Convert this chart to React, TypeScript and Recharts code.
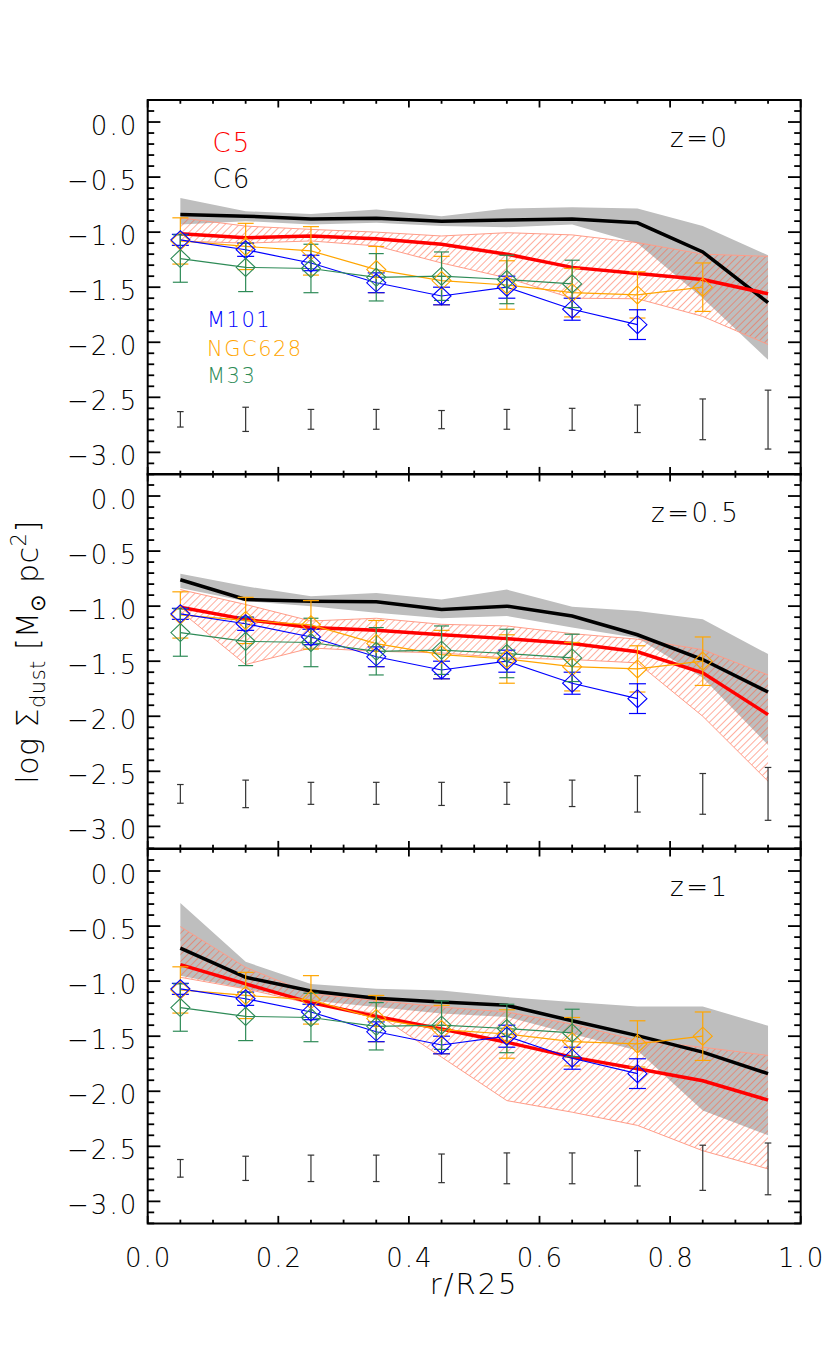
import React from 'react';
import { ComposedChart, Area, Line, XAxis, YAxis, ErrorBar, ReferenceArea } from 'recharts';

// radial bins r/R25
const R_BINS = [0.05, 0.15, 0.25, 0.35, 0.45, 0.55, 0.65, 0.75, 0.85, 0.95];

// observed galaxies (same in every panel)
const M101 = [-1.07, -1.16, -1.28, -1.46, -1.58, -1.5, -1.7, -1.84];
const M101_ERR = [0.05, 0.06, 0.07, 0.09, 0.08, 0.1, 0.1, 0.135];
const NGC628 = [-1.08, -1.13, -1.17, -1.34, -1.44, -1.48, -1.55, -1.57, -1.5];
const NGC628_ERR = [0.21, 0.21, 0.22, 0.21, 0.22, 0.22, 0.22, 0.21, 0.22];
const M33 = [-1.24, -1.32, -1.33, -1.41, -1.4, -1.43, -1.47];
const M33_ERR = [0.215, 0.22, 0.22, 0.215, 0.22, 0.22, 0.215];

// z = 0
const C5_Z0 = [-1.015, -1.05, -1.035, -1.06, -1.11, -1.2, -1.32, -1.375, -1.43, -1.56];
const C5_Z0_HI = [-0.87, -0.945, -0.975, -1.0, -1.035, -1.005, -1.025, -1.095, -1.2, -1.22];
const C5_Z0_LO = [-1.08, -1.1, -1.08, -1.125, -1.28, -1.415, -1.6, -1.605, -1.765, -2.02];
const C6_Z0 = [-0.84, -0.855, -0.88, -0.875, -0.9, -0.89, -0.88, -0.915, -1.18, -1.64];
const C6_Z0_HI = [-0.69, -0.81, -0.835, -0.795, -0.855, -0.785, -0.775, -0.785, -0.945, -1.21];
const C6_Z0_LO = [-0.93, -0.9, -0.93, -0.915, -0.945, -0.955, -0.93, -1.1, -1.6, -2.16];
const SYS_Z0_LO = [-2.77, -2.81, -2.79, -2.79, -2.785, -2.79, -2.8, -2.82, -2.885, -2.97];
const SYS_Z0_HI = [-2.63, -2.59, -2.61, -2.61, -2.62, -2.61, -2.6, -2.57, -2.515, -2.435];

// z = 0.5
const C5_Z05 = [-1.01, -1.12, -1.195, -1.22, -1.26, -1.295, -1.34, -1.415, -1.605, -1.985];
const C5_Z05_HI = [-0.85, -0.985, -1.135, -1.11, -1.165, -1.18, -1.25, -1.3, -1.395, -1.625];
const C5_Z05_LO = [-1.045, -1.53, -1.38, -1.41, -1.425, -1.47, -1.485, -1.515, -2.0, -2.59];
const C6_Z05 = [-0.76, -0.94, -0.955, -0.96, -1.03, -1.0, -1.09, -1.26, -1.485, -1.78];
const C6_Z05_HI = [-0.705, -0.82, -0.91, -0.88, -0.94, -0.85, -1.005, -1.045, -1.12, -1.435];
const C6_Z05_LO = [-0.835, -0.955, -1.0, -1.06, -1.11, -1.09, -1.195, -1.29, -1.65, -2.26];
const SYS_Z05_LO = [-2.79, -2.83, -2.8, -2.8, -2.81, -2.8, -2.82, -2.87, -2.89, -2.945];
const SYS_Z05_HI = [-2.62, -2.58, -2.6, -2.6, -2.6, -2.6, -2.58, -2.54, -2.52, -2.465];

// z = 1
const C5_Z1 = [-0.85, -1.025, -1.195, -1.32, -1.435, -1.555, -1.69, -1.795, -1.905, -2.08];
const C5_Z1_HI = [-0.505, -0.875, -1.115, -1.175, -1.235, -1.28, -1.39, -1.54, -1.6, -1.675];
const C5_Z1_LO = [-0.965, -1.07, -1.205, -1.295, -1.69, -2.085, -2.19, -2.31, -2.54, -2.705];
const C6_Z1 = [-0.7, -0.965, -1.09, -1.155, -1.19, -1.22, -1.36, -1.495, -1.645, -1.84];
const C6_Z1_HI = [-0.29, -0.825, -1.025, -1.07, -1.085, -1.145, -1.19, -1.23, -1.23, -1.405];
const C6_Z1_LO = [-0.95, -1.07, -1.175, -1.235, -1.295, -1.325, -1.48, -1.63, -2.175, -2.4];
const SYS_Z1_LO = [-2.78, -2.81, -2.82, -2.82, -2.83, -2.84, -2.84, -2.86, -2.9, -2.94];
const SYS_Z1_HI = [-2.62, -2.59, -2.58, -2.58, -2.57, -2.56, -2.56, -2.54, -2.49, -2.47];

// axes
const X_TICKS = [0, 0.05, 0.1, 0.15, 0.2, 0.25, 0.3, 0.35, 0.4, 0.45, 0.5, 0.55, 0.6, 0.65, 0.7, 0.75, 0.8, 0.85, 0.9, 0.95, 1.0];
const X_LABELS = ['0.0', '0.2', '0.4', '0.6', '0.8', '1.0'];
const Y_TICKS = [-3.2, -3.1, -3.0, -2.9, -2.8, -2.7, -2.6, -2.5, -2.4, -2.3, -2.2, -2.1, -2.0, -1.9, -1.8, -1.7, -1.6, -1.5, -1.4, -1.3, -1.2, -1.1, -1.0, -0.9, -0.8, -0.7, -0.6, -0.5, -0.4, -0.3, -0.2, -0.1, 0.0, 0.1, 0.2];
const Y_MAJOR = [-3.0, -2.5, -2.0, -1.5, -1.0, -0.5, 0.0];
const Y_LABELS = ['−3.0', '−2.5', '−2.0', '−1.5', '−1.0', '−0.5', '0.0'];

const FONT = '"DejaVu Sans", sans-serif';
const FW = 200; // thin strokes like the IDL vector font
const W = 830;
const PLOT_L = 147.7;
const PLOT_W = 653;
const PANEL_H = 374.4;
const PANEL_TOPS = [100, 474.4, 848.8];
const M_TOP = 40;
const M_BOT = 60;
const CH = M_TOP + PANEL_H + M_BOT + 30;

const PANELS = [
  { z: 'z=0', zx: 670, c5: C5_Z0, c5Lo: C5_Z0_LO, c5Hi: C5_Z0_HI, c6: C6_Z0, c6Lo: C6_Z0_LO, c6Hi: C6_Z0_HI, sysLo: SYS_Z0_LO, sysHi: SYS_Z0_HI },
  { z: 'z=0.5', zx: 651, c5: C5_Z05, c5Lo: C5_Z05_LO, c5Hi: C5_Z05_HI, c6: C6_Z05, c6Lo: C6_Z05_LO, c6Hi: C6_Z05_HI, sysLo: SYS_Z05_LO, sysHi: SYS_Z05_HI },
  { z: 'z=1', zx: 670, c5: C5_Z1, c5Lo: C5_Z1_LO, c5Hi: C5_Z1_HI, c6: C6_Z1, c6Lo: C6_Z1_LO, c6Hi: C6_Z1_HI, sysLo: SYS_Z1_LO, sysHi: SYS_Z1_HI },
];

const buildRows = (p: any) =>
  R_BINS.map((r, i) => ({
    r,
    c5: p.c5[i],
    c5Band: [p.c5Lo[i], p.c5Hi[i]],
    c6: p.c6[i],
    c6Band: [p.c6Lo[i], p.c6Hi[i]],
    m101: M101[i] ?? null,
    m101Err: M101_ERR[i] ?? null,
    ngc628: NGC628[i] ?? null,
    ngc628Err: NGC628_ERR[i] ?? null,
    m33: M33[i] ?? null,
    m33Err: M33_ERR[i] ?? null,
    sys: (p.sysLo[i] + p.sysHi[i]) / 2,
    sysErr: (p.sysHi[i] - p.sysLo[i]) / 2,
  }));

const diamond = (color: string) => (p: any) => {
  const { cx, cy, index } = p;
  if (cx == null || cy == null || Number.isNaN(cy)) return <g key={`d${index}`} />;
  return (
    <polygon
      key={`d${index}`}
      points={`${cx - 9.5},${cy} ${cx},${cy - 9} ${cx + 9.5},${cy} ${cx},${cy + 9}`}
      fill="none"
      stroke={color}
      strokeWidth={1.1}
    />
  );
};

// inward ticks on bottom + top, labels only on the last panel
const XTick = (props: any) => {
  const { x, y, payload, showLabels } = props;
  const v = payload.value;
  const major = Math.abs(v * 5 - Math.round(v * 5)) < 1e-6;
  const len = major ? 7.5 : 3.75;
  return (
    <g>
      <line x1={x} y1={y} x2={x} y2={y - len} stroke="#000" strokeWidth={1.8} />
      <line x1={x} y1={y - PANEL_H} x2={x} y2={y - PANEL_H + len} stroke="#000" strokeWidth={1.8} />
      {showLabels && major && (
        <text x={x + 1} y={y + 44} textAnchor="middle" fontSize={26} fontFamily={FONT} fontWeight={FW} letterSpacing={2} fill="#000">
          {X_LABELS[Math.round(v * 5)]}
        </text>
      )}
    </g>
  );
};

// inward ticks on left + right
const YTick = (props: any) => {
  const { x, y, payload } = props;
  const v = payload.value;
  const mi = Y_MAJOR.findIndex((m) => Math.abs(m - v) < 1e-6);
  const major = mi >= 0;
  const len = major ? 12.7 : 6.5;
  return (
    <g>
      <line x1={x} y1={y} x2={x + len} y2={y} stroke="#000" strokeWidth={1.8} />
      <line x1={x + PLOT_W} y1={y} x2={x + PLOT_W - len} y2={y} stroke="#000" strokeWidth={1.8} />
      {major && (
        <text x={x - 9.5} y={y + 12.7} textAnchor="end" fontSize={26} fontFamily={FONT} fontWeight={FW} letterSpacing={2} fill="#000">
          {Y_LABELS[mi]}
        </text>
      )}
    </g>
  );
};

const Panel = ({ idx }: { idx: number }) => {
  const p = PANELS[idx];
  const rows = buildRows(p);
  const last = idx === PANELS.length - 1;
  return (
    <div style={{ position: 'absolute', left: 0, top: PANEL_TOPS[idx] - M_TOP, width: W, height: CH }}>
      <ComposedChart
        width={W}
        height={CH}
        data={rows}
        margin={{ top: M_TOP, right: W - PLOT_L - PLOT_W, bottom: CH - M_TOP - PANEL_H - 30, left: PLOT_L - 60 }}
      >
        <XAxis
          dataKey="r"
          type="number"
          domain={[0, 1]}
          allowDataOverflow
          ticks={X_TICKS}
          interval={0}
          height={30}
          tickSize={0}
          tickMargin={0}
          axisLine={false}
          tickLine={false}
          tick={(t: any) => <XTick {...t} showLabels={last} />}
        />
        <YAxis
          type="number"
          domain={[-3.2, 0.2]}
          allowDataOverflow
          ticks={Y_TICKS}
          interval={0}
          width={60}
          tickSize={0}
          tickMargin={0}
          axisLine={false}
          tickLine={false}
          tick={(t: any) => <YTick {...t} />}
        />
        <Area dataKey="c6Band" type="linear" stroke="none" fill="#bebebe" fillOpacity={1} isAnimationActive={false} />
        <Area dataKey="c5Band" type="linear" stroke="#ff9c88" strokeWidth={1} fill="url(#hatchRed)" fillOpacity={1} isAnimationActive={false} />
        <Line dataKey="c6" type="linear" stroke="#000" strokeWidth={3.5} dot={false} activeDot={false} isAnimationActive={false} />
        <Line dataKey="c5" type="linear" stroke="#ff0000" strokeWidth={3.5} dot={false} activeDot={false} isAnimationActive={false} />
        <Line dataKey="ngc628" type="linear" stroke="#ffa500" strokeWidth={1.2} dot={diamond('#ffa500')} activeDot={false} isAnimationActive={false}>
          <ErrorBar dataKey="ngc628Err" width={8} stroke="#ffa500" strokeWidth={1.2} isAnimationActive={false} />
        </Line>
        <Line dataKey="m101" type="linear" stroke="#0000ff" strokeWidth={1.2} dot={diamond('#0000ff')} activeDot={false} isAnimationActive={false}>
          <ErrorBar dataKey="m101Err" width={8.5} stroke="#0000ff" strokeWidth={1.2} isAnimationActive={false} />
        </Line>
        <Line dataKey="m33" type="linear" stroke="#2e8b57" strokeWidth={1.2} dot={diamond('#2e8b57')} activeDot={false} isAnimationActive={false}>
          <ErrorBar dataKey="m33Err" width={7.5} stroke="#2e8b57" strokeWidth={1.2} isAnimationActive={false} />
        </Line>
        <Line dataKey="sys" type="linear" stroke="none" dot={false} activeDot={false} isAnimationActive={false}>
          <ErrorBar dataKey="sysErr" width={3.3} stroke="#333" strokeWidth={1.2} isAnimationActive={false} />
        </Line>
        <ReferenceArea x1={0} x2={1} y1={-3.2} y2={0.2} fill="none" stroke="#000" strokeWidth={2} ifOverflow="visible" />
      </ComposedChart>
    </div>
  );
};

export default function App() {
  return (
    <div style={{ position: 'absolute', left: 0, top: 0, width: W, height: 1365, background: '#fff', overflow: 'hidden' }}>
      <svg width={0} height={0} style={{ position: 'absolute' }}>
        <defs>
          <pattern id="hatchRed" width={5} height={5} patternUnits="userSpaceOnUse" patternTransform="rotate(45)">
            <line x1={0} y1={0} x2={0} y2={5} stroke="#ff5c3c" strokeWidth={1} />
          </pattern>
        </defs>
      </svg>
      {PANELS.map((_, i) => (
        <Panel key={i} idx={i} />
      ))}
      <svg width={W} height={1365} style={{ position: 'absolute', left: 0, top: 0, pointerEvents: 'none' }} fontFamily={FONT} fontWeight={FW}>
        <text x={212.6} y={152.2} fontSize={26} letterSpacing={2} fill="#ff0000">C5</text>
        <text x={212.6} y={188} fontSize={26} letterSpacing={2} fill="#000">C6</text>
        <text x={207} y={327} fontSize={21} letterSpacing={1.5} fill="#0000ff">M101</text>
        <text x={207} y={355.5} fontSize={21} letterSpacing={1.5} fill="#ffa500">NGC628</text>
        <text x={207} y={382.5} fontSize={21} letterSpacing={1.5} fill="#2e8b57">M33</text>
        {PANELS.map((p, i) => (
          <text key={p.z} x={p.zx} y={PANEL_TOPS[i] + 47.2} fontSize={26} letterSpacing={2.5} fill="#000">
            {p.z}
          </text>
        ))}
        <text x={PLOT_L + PLOT_W / 2} y={1294} textAnchor="middle" fontSize={29} letterSpacing={2} fill="#000">
          r/R25
        </text>
        <text transform="translate(38,652) rotate(-90)" textAnchor="middle" fontSize={30} letterSpacing={0.5} fill="#000">
          {'log Σ'}
          <tspan fontSize={21} dy={7}>dust</tspan>
          <tspan dy={-7}>{' [M'}</tspan>
          <tspan fontSize={21} dy={7}>⊙</tspan>
          <tspan dy={-7}>{' pc'}</tspan>
          <tspan fontSize={21} dy={-12}>2</tspan>
          <tspan dy={12}>]</tspan>
        </text>
      </svg>
    </div>
  );
}
